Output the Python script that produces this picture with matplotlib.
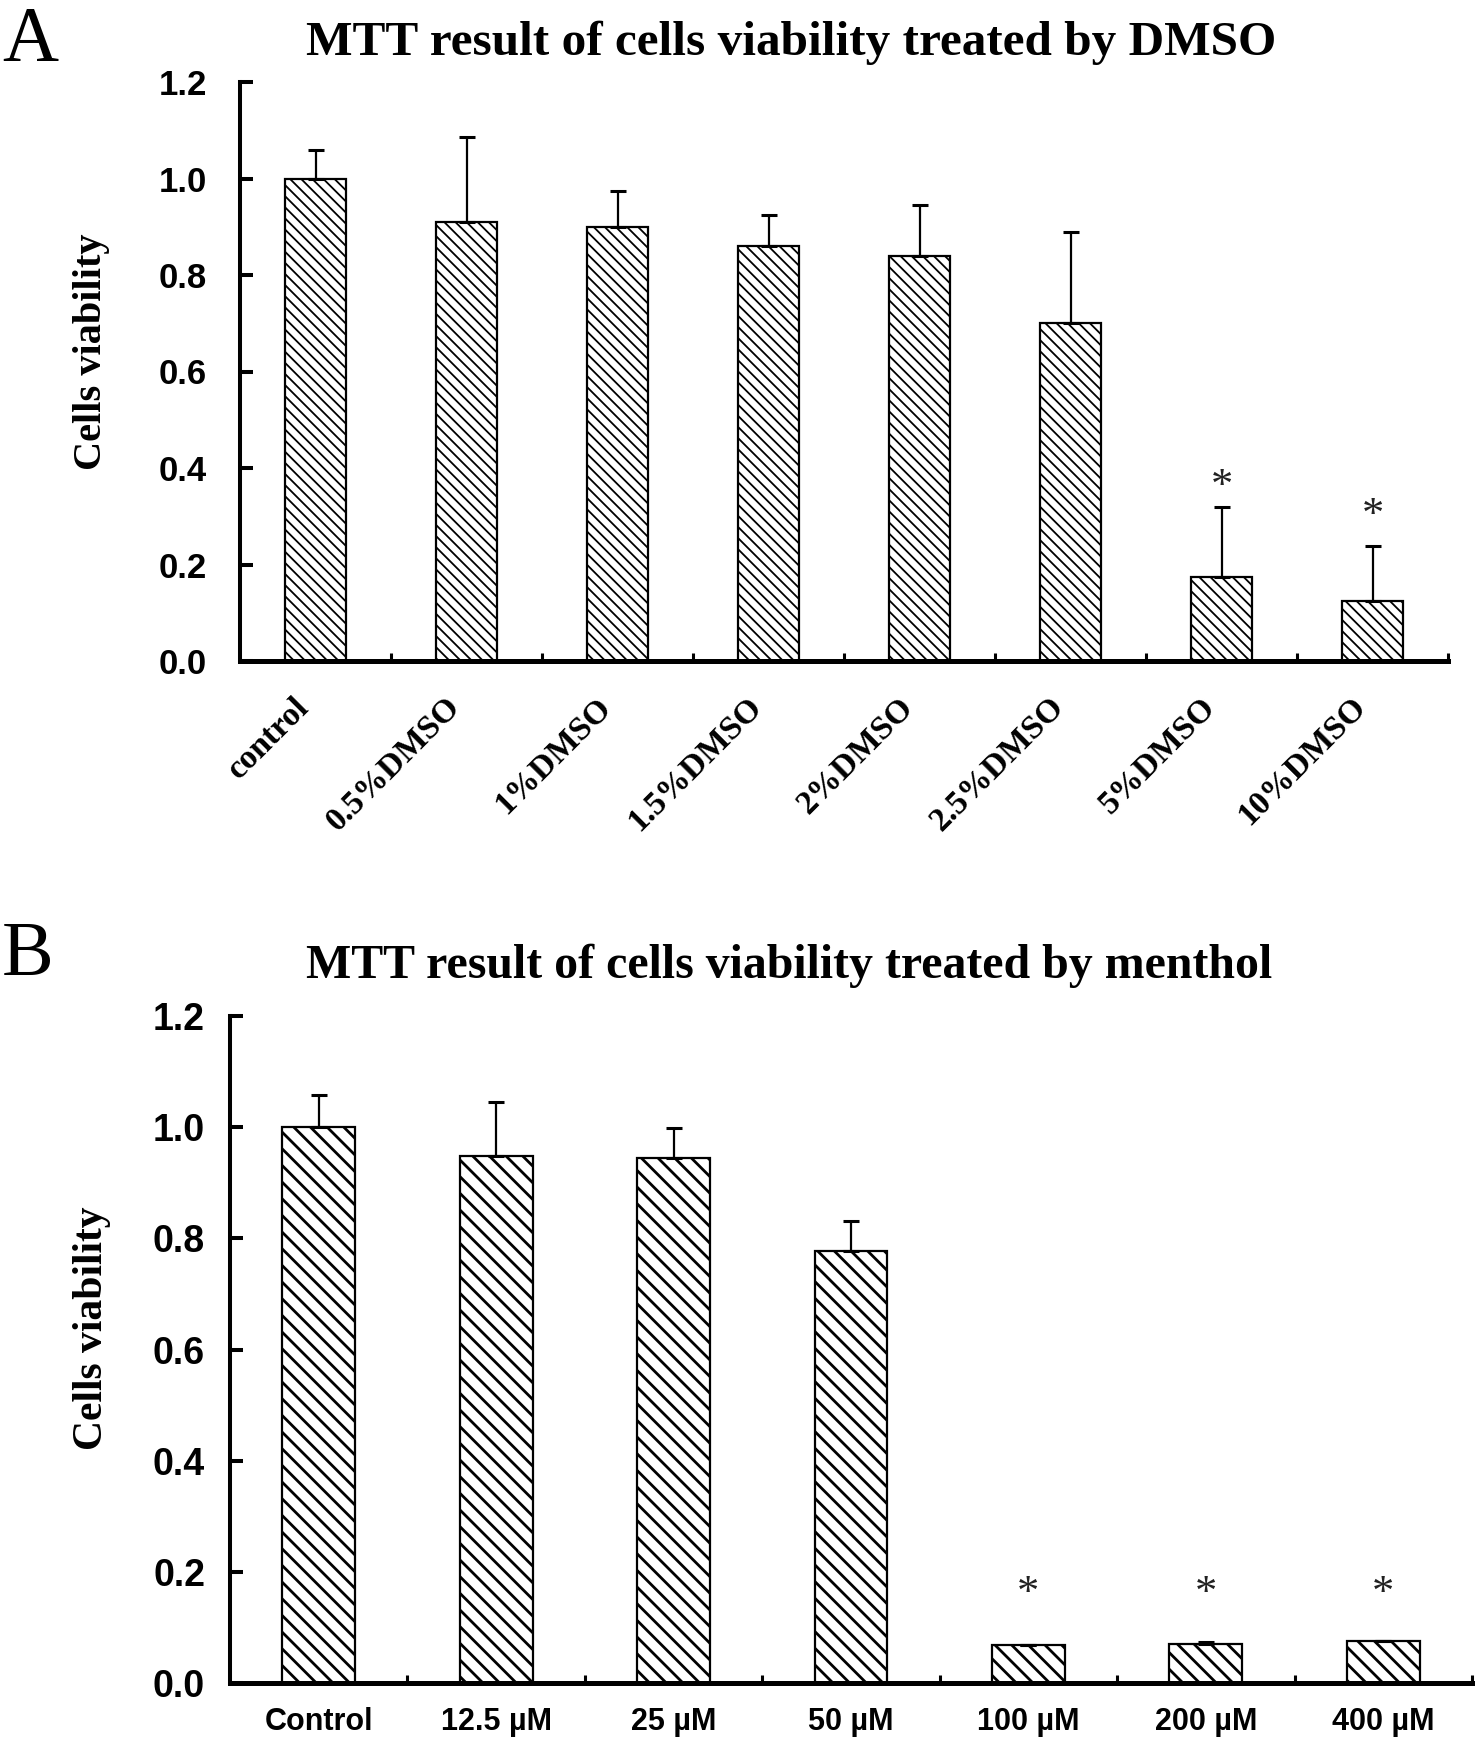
import numpy as np
import matplotlib
matplotlib.use("Agg")
import matplotlib.pyplot as plt
import matplotlib.transforms as mtransforms

# =========================================================
# DATA
# =========================================================

dmso_labels = ["control", "0.5%DMSO", "1%DMSO", "1.5%DMSO",
               "2%DMSO", "2.5%DMSO", "5%DMSO", "10%DMSO"]
dmso_mean = [1.00, 0.91, 0.90, 0.86, 0.84, 0.70, 0.175, 0.125]
dmso_err = [0.06, 0.175, 0.075, 0.065, 0.105, 0.19, 0.145, 0.113]
dmso_star = [None, None, None, None, None, None, 0.36, 0.30]

menthol_labels = ["Control", "12.5 \u00b5M", "25 \u00b5M", "50 \u00b5M",
                  "100 \u00b5M", "200 \u00b5M", "400 \u00b5M"]
menthol_mean = [1.00, 0.948, 0.944, 0.778, 0.069, 0.070, 0.075]
menthol_err = [0.058, 0.097, 0.054, 0.054, 0.0, 0.003, 0.0]
menthol_star = [None, None, None, None, 0.16, 0.16, 0.16]

yticks = [0.0, 0.2, 0.4, 0.6, 0.8, 1.0, 1.2]

# =========================================================
# FIGURE
# =========================================================

W, H = 1481, 1745
fig = plt.figure(figsize=(W / 100, H / 100), dpi=100)


def box(left, right, top, bottom):
    return [left / W, 1 - bottom / H, (right - left) / W, (bottom - top) / H]


SERIF = ["Liberation Serif", "DejaVu Serif"]
SANS = ["Liberation Sans", "DejaVu Sans"]


def draw_panel(ax, labels, mean, err, star, hatch, hatch_lw, tick_fs, pad):
    plt.rcParams["hatch.linewidth"] = hatch_lw
    x = np.arange(len(labels))
    bars = ax.bar(x, mean, width=0.41, color="white", edgecolor="black",
                  linewidth=1.6, hatch=hatch, zorder=2)
    for b in bars:
        if hasattr(b, "set_hatch_linewidth"):
            b.set_hatch_linewidth(hatch_lw)
    ax.errorbar(x, mean, yerr=[np.zeros(len(err)), err], fmt="none",
                ecolor="black", elinewidth=1.6, capsize=6, capthick=2.2,
                zorder=3)
    for xi, s in zip(x, star):
        if s is not None:
            ax.text(xi, s, "*", ha="center", va="center", fontsize=32,
                    family=SERIF, color="#222222")

    ax.set_xlim(-0.5, len(labels) - 0.5)
    ax.set_ylim(0, 1.2)
    ax.spines["top"].set_visible(False)
    ax.spines["right"].set_visible(False)
    ax.spines["left"].set_linewidth(2.9)
    ax.spines["bottom"].set_linewidth(3.6)
    ax.set_yticks(yticks)
    ax.set_yticklabels([f"{v:.1f}" for v in yticks], family=SANS,
                       fontweight="bold", fontsize=tick_fs)
    ax.tick_params(axis="y", direction="in", length=9, width=2.9, pad=pad)
    ax.set_xticks(x)
    ax.set_xticks(np.arange(0.5, len(labels), 1.0), minor=True)
    ax.tick_params(axis="x", which="major", length=0)
    ax.tick_params(axis="x", which="minor", direction="in", length=6,
                   width=2.2)
    return x


# ---------------- panel A ----------------
axA = fig.add_axes(box(240, 1448, 82, 661))
xA = draw_panel(axA, dmso_labels, dmso_mean, dmso_err, dmso_star,
                "\\\\\\", 1.3, 25, 24)
axA.set_xticklabels(dmso_labels, rotation=45, ha="right",
                    rotation_mode="anchor", family=SERIF,
                    fontweight="bold", fontsize=24)
axA.tick_params(axis="x", which="major", pad=22)
shift = mtransforms.ScaledTranslation(-22 / 100, 0, fig.dpi_scale_trans)
for lab in axA.get_xticklabels():
    lab.set_transform(lab.get_transform() + shift)

# ---------------- panel B ----------------
axB = fig.add_axes(box(230, 1472, 1016, 1683))
xB = draw_panel(axB, menthol_labels, menthol_mean, menthol_err,
                menthol_star, "\\\\", 2.0, 27, 18)
axB.set_xticklabels(menthol_labels, family=SANS, fontweight="bold",
                    fontsize=22)
axB.tick_params(axis="x", which="major", pad=17)

# =========================================================
# TEXT
# =========================================================

fig.text(791 / W, 1 - 55 / H, "MTT result of cells viability treated by DMSO",
         ha="center", va="baseline", family=SERIF, fontweight="bold",
         fontsize=35.5)
fig.text(789 / W, 1 - 978 / H,
         "MTT result of cells viability treated by menthol",
         ha="center", va="baseline", family=SERIF, fontweight="bold",
         fontsize=34.5)

fig.text(2 / W, 1 - 60 / H, "A", ha="left", va="baseline", family=SERIF,
         fontsize=56)
fig.text(2 / W, 1 - 975 / H, "B", ha="left", va="baseline", family=SERIF,
         fontsize=56)

fig.text(92 / W, 1 - 352 / H, "Cells viability", rotation=90, ha="center",
         va="center", family=SERIF, fontweight="bold", fontsize=29)
fig.text(92 / W, 1 - 1328 / H, "Cells viability", rotation=90, ha="center",
         va="center", family=SERIF, fontweight="bold", fontsize=30)

fig.savefig("out.png", dpi=100)
